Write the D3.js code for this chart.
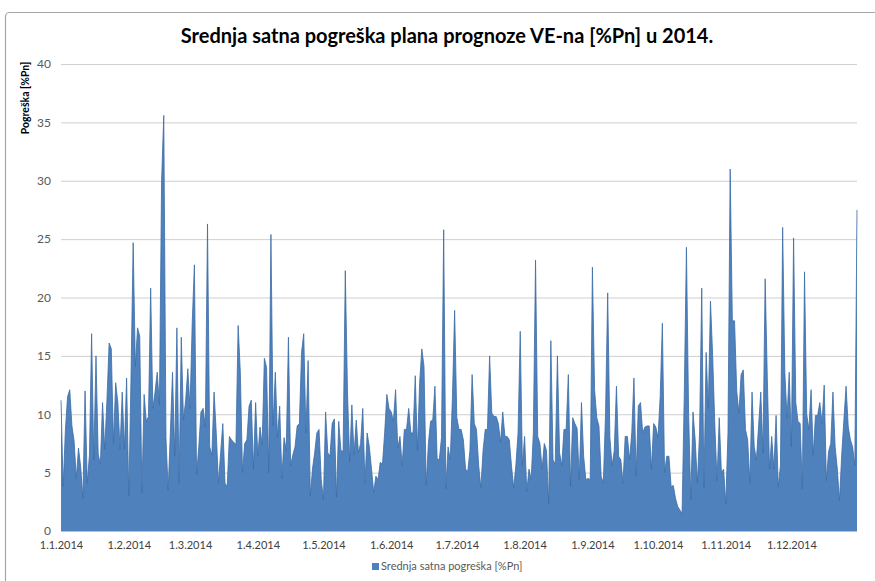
<!DOCTYPE html>
<html lang="hr">
<head>
  <meta charset="UTF-8">
  <title>Srednja satna pogreška plana prognoze VE-na</title>
  <script src="https://cdn.jsdelivr.net/npm/d3@7"></script>
  <style>
    body { margin: 0; background: #fff; }
    svg text { font-family: Lato, "Open Sans", sans-serif; }
    .grid line { stroke: #cfcfcf; stroke-width: 1; }
    .grid path { display: none; }
    .yax text { fill: #595959; font-size: 12px; }
    .xax text { fill: #404040; font-size: 11px; }
  </style>
</head>
<body>
<svg width="875" height="581"></svg>
<script>
// daily mean hourly error [%Pn], 2014, one array per month
var jan = [11.2, 3.8, 8.6, 11.5, 12.1, 9.0, 7.7, 4.5, 7.1, 5.5, 2.8, 12.0, 4.1, 6.5, 16.9, 6.1, 15.0, 6.6, 5.7, 11.0, 7.0, 11.2, 16.1, 15.6, 7.5, 12.7, 11.0, 7.0, 11.9, 7.0, 13.1];
var feb = [3.0, 13.0, 24.7, 14.1, 17.4, 16.7, 3.3, 11.7, 9.4, 9.8, 20.8, 10.5, 11.9, 13.6, 10.8, 30.0, 35.6, 8.0, 3.5, 8.4, 13.6, 6.4, 17.4, 4.1, 16.6, 9.5, 11.2, 13.9];
var mar = [10.5, 17.8, 22.8, 4.8, 7.2, 10.2, 10.5, 8.9, 26.3, 7.2, 6.5, 11.9, 8.4, 4.1, 6.7, 9.2, 4.1, 3.8, 8.1, 7.8, 7.6, 7.4, 17.6, 13.6, 5.0, 7.5, 7.8, 10.7, 11.2, 5.3, 11.0];
var apr = [6.4, 8.9, 7.4, 14.8, 14.0, 5.0, 25.4, 9.0, 13.6, 8.0, 10.7, 4.5, 8.0, 6.9, 16.6, 5.6, 6.5, 7.2, 9.0, 9.2, 15.3, 16.9, 8.4, 14.6, 3.0, 5.3, 6.7, 8.4, 8.7, 4.4];
var may = [2.7, 10.2, 6.7, 6.4, 9.2, 9.6, 2.9, 9.4, 6.9, 6.8, 22.3, 12.0, 5.9, 10.8, 6.5, 9.5, 6.7, 7.5, 10.5, 4.1, 8.4, 7.2, 5.3, 3.3, 4.7, 4.4, 5.9, 5.7, 8.4, 11.7, 10.5];
var jun = [10.2, 9.4, 12.1, 7.1, 8.1, 5.6, 8.7, 8.7, 10.5, 8.4, 8.4, 13.3, 6.9, 12.7, 15.6, 14.1, 3.9, 7.5, 9.4, 9.5, 12.4, 6.2, 6.1, 8.0, 25.8, 3.6, 7.2, 6.1, 11.5, 18.9];
var jul = [9.7, 8.7, 8.7, 7.8, 5.3, 5.1, 6.9, 13.4, 9.2, 8.7, 5.6, 3.7, 6.9, 8.7, 8.7, 15.0, 10.1, 9.8, 9.8, 9.2, 7.6, 10.2, 8.1, 8.1, 7.8, 5.6, 3.7, 5.6, 8.4, 17.1, 5.6];
var aug = [8.1, 3.4, 5.3, 4.4, 8.4, 23.2, 8.1, 7.5, 5.3, 7.5, 6.9, 2.3, 16.3, 6.1, 5.7, 15.0, 6.7, 5.6, 8.7, 8.7, 13.4, 3.8, 9.7, 9.2, 8.8, 4.4, 11.0, 6.4, 4.4, 4.5, 4.4];
var sep = [22.6, 12.1, 9.7, 9.0, 4.7, 4.1, 10.0, 20.4, 8.0, 5.6, 6.9, 12.4, 6.4, 6.1, 4.1, 8.1, 8.1, 6.1, 8.4, 13.1, 4.7, 10.7, 11.0, 8.4, 8.9, 9.0, 9.0, 5.3, 9.2, 8.9];
var oct = [8.0, 11.5, 17.8, 5.0, 6.4, 6.4, 3.8, 3.9, 2.8, 2.1, 1.8, 1.5, 11.5, 24.3, 10.0, 2.7, 10.2, 7.8, 4.1, 8.4, 20.8, 3.7, 15.3, 10.5, 19.7, 15.0, 9.0, 4.3, 9.7, 5.0, 5.3];
var nov = [2.3, 8.4, 31.0, 18.0, 18.0, 12.0, 10.1, 13.4, 13.8, 8.7, 7.8, 4.1, 11.9, 7.2, 6.1, 9.0, 11.9, 6.7, 21.6, 13.0, 5.3, 8.1, 5.3, 9.9, 3.8, 5.6, 26.0, 13.6, 9.7, 13.6];
var dec = [7.2, 25.1, 11.0, 9.4, 9.2, 3.6, 22.2, 10.0, 8.7, 12.1, 6.5, 9.9, 9.9, 11.0, 9.2, 12.5, 4.3, 6.8, 7.5, 11.9, 7.2, 5.3, 2.6, 6.5, 9.5, 12.4, 8.9, 7.8, 7.2, 5.6, 27.5];

var months = [jan, feb, mar, apr, may, jun, jul, aug, sep, oct, nov, dec];
var yTicks = [0, 5, 10, 15, 20, 25, 30, 35, 40];
var title = "Srednja satna pogreška plana prognoze VE-na [%Pn] u 2014.";
var yTitle = "Pogreška [%Pn]";
var seriesName = "Srednja satna pogreška [%Pn]";

var data = [];
months.forEach(function(arr, m) {
  arr.forEach(function(v, i) {
    data.push({ date: new Date(2014, m, i + 1), value: v });
  });
});

var svg = d3.select("svg");

// chart frame
svg.append("rect")
  .attr("x", 5.5).attr("y", 12.5)
  .attr("width", 900).attr("height", 600)
  .attr("rx", 4)
  .attr("fill", "none")
  .attr("stroke", "#a6a6a6")
  .attr("stroke-width", 1.2);

var plotL = 61, plotR = 857, plotT = 64, plotB = 531;

var x = d3.scaleTime()
  .domain([new Date(2014, 0, 1), new Date(2014, 11, 31)])
  .range([plotL, plotR]);

var y = d3.scaleLinear()
  .domain([0, 40])
  .range([plotB, plotT]);

// gridlines
svg.append("g")
  .attr("class", "grid")
  .attr("transform", "translate(" + plotL + ",0)")
  .call(d3.axisLeft(y).tickValues(yTicks).tickSize(-(plotR - plotL)).tickFormat(""));

// area
var area = d3.area()
  .x(function(d) { return x(d.date); })
  .y0(y(0))
  .y1(function(d) { return y(d.value); });

var line = d3.line()
  .x(function(d) { return x(d.date); })
  .y(function(d) { return y(d.value); });

svg.append("path")
  .datum(data)
  .attr("d", area)
  .attr("fill", "#4f81bd");

svg.append("path")
  .datum(data)
  .attr("d", line)
  .attr("fill", "none")
  .attr("stroke", "#3b6ca6")
  .attr("stroke-width", 0.8);

// y axis labels
var yAxis = svg.append("g")
  .attr("class", "yax")
  .attr("transform", "translate(" + (plotL - 10) + ",0)")
  .call(d3.axisLeft(y).tickValues(yTicks).tickSize(0).tickPadding(0));
yAxis.select(".domain").remove();

// x axis
var monthStarts = d3.range(12).map(function(m) { return new Date(2014, m, 1); });
var xAxis = svg.append("g")
  .attr("class", "xax")
  .attr("transform", "translate(0," + plotB + ")")
  .call(d3.axisBottom(x).tickValues(monthStarts).tickSize(0).tickPadding(10)
    .tickFormat(d3.timeFormat("%-d.%-m.%Y")));
xAxis.select(".domain")
  .attr("stroke", "#bfbfbf")
  .attr("d", "M" + plotL + ",0.5H" + plotR);

// title
svg.append("text")
  .attr("x", 447).attr("y", 43)
  .attr("text-anchor", "middle")
  .style("font-size", "20px")
  .style("font-weight", "bold")
  .attr("fill", "#000")
  .text(title);

// y axis title
svg.append("text")
  .attr("transform", "translate(29,98) rotate(-90)")
  .attr("text-anchor", "middle")
  .style("font-size", "10.5px")
  .style("font-weight", "bold")
  .attr("fill", "#000")
  .text(yTitle);

// legend
var lg = svg.append("g").attr("transform", "translate(372,570)");
lg.append("rect")
  .attr("x", 0).attr("y", -7)
  .attr("width", 7).attr("height", 7)
  .attr("fill", "#4f81bd");
lg.append("text")
  .attr("x", 9).attr("y", 0)
  .style("font-size", "11px")
  .attr("fill", "#595959")
  .text(seriesName);
</script>
</body>
</html>
